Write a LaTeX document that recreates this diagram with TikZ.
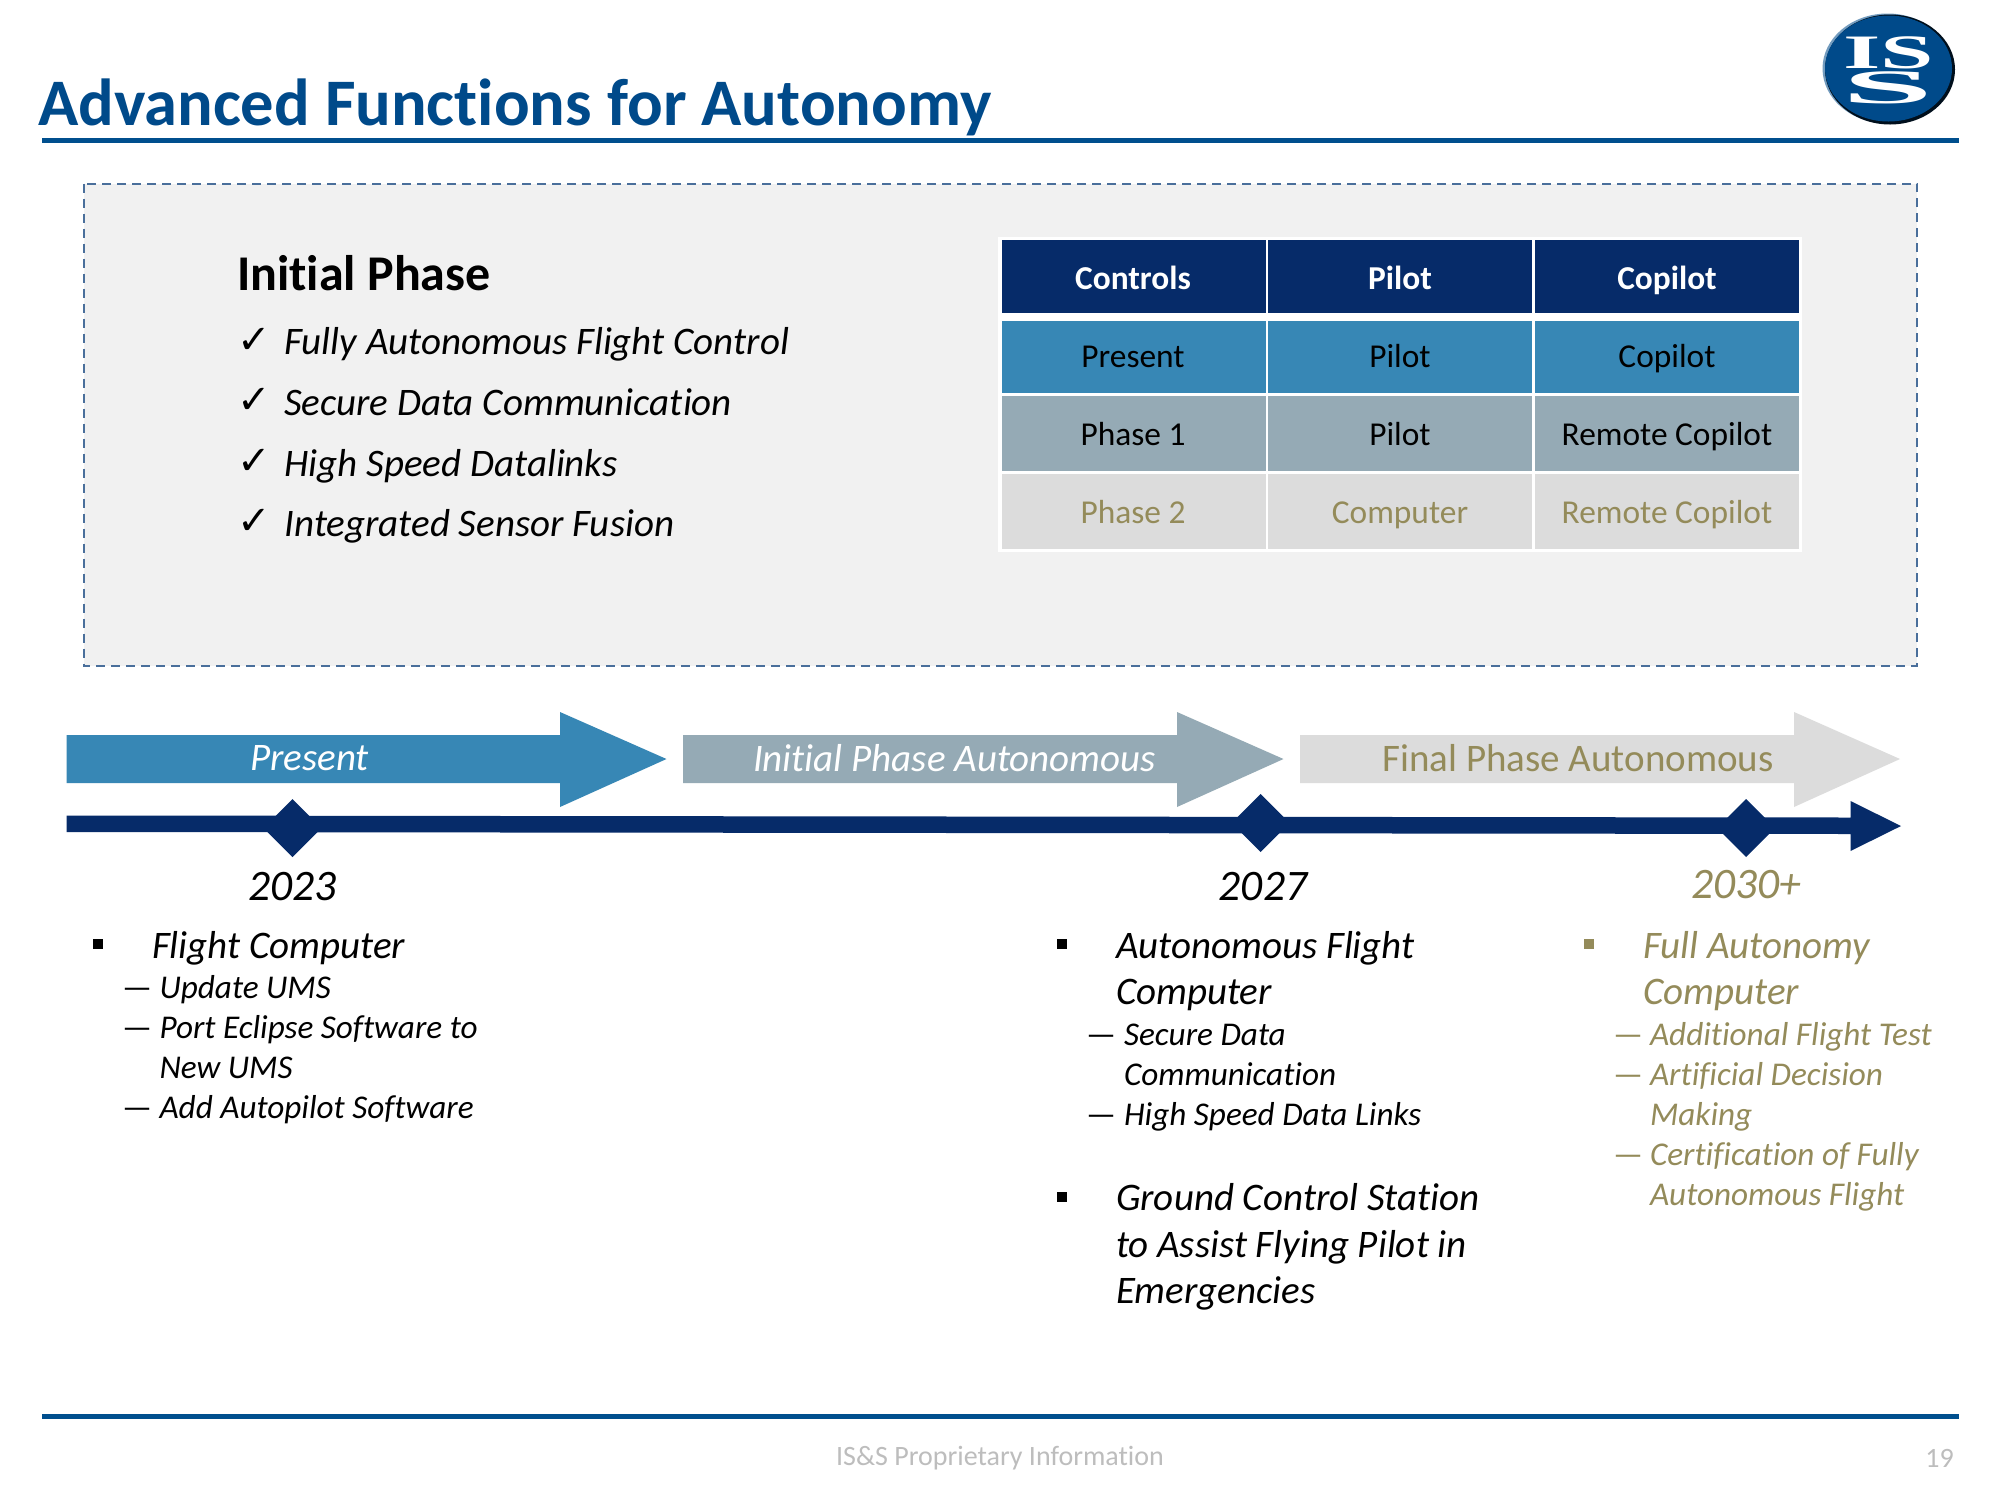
\documentclass[tikz,border=0pt]{standalone}
\usepackage{fontspec}
\setmainfont[Ligatures=NoCommon]{Carlito}
\newfontfamily\djv{DejaVu Sans}
\newfontfamily\logofont{Liberation Serif}
\usetikzlibrary{shapes.geometric,calc}
\definecolor{ttl}{HTML}{004A8A}
\definecolor{bar}{HTML}{004F8E}
\definecolor{navy}{HTML}{062B69}
\definecolor{teal}{HTML}{3787B5}
\definecolor{slate}{HTML}{95AAB5}
\definecolor{pale}{HTML}{DCDCDC}
\definecolor{olive}{HTML}{948B5A}
\definecolor{panel}{HTML}{F1F1F1}
\definecolor{dashc}{HTML}{4A6F9B}
\definecolor{foot}{HTML}{BDBDBD}
\newcommand{\fsz}[1]{\fontsize{#1}{#1}\selectfont}
\tikzset{
  lbl/.style={inner sep=0pt,outer sep=0pt,anchor=base west},
  ctr/.style={inner sep=0pt,outer sep=0pt,anchor=center},
  chk/.style={lbl,font=\djv\fsz{40}},
  main/.style={lbl,font=\itshape\fsz{39}},
  subt/.style={lbl,font=\itshape\fsz{33.2}},
  dashm/.style={lbl,font=\fsz{33.2}},
  bul/.style={rectangle,inner sep=0pt,minimum size=9.5pt,fill=black},
  yr/.style={ctr,font=\itshape\fsz{43.5}},
  arlbl/.style={ctr,font=\fsz{39}},
  cell/.style={ctr,font=\fsz{33.4}},
  hcell/.style={ctr,font=\bfseries\fsz{33.4},text=white},
  dmd/.style={fill=navy},
}
\begin{document}
\begin{tikzpicture}[x=1pt,y=-1pt]
\useasboundingbox[fill=white] (0,0) rectangle (2000,1500);
% title and rules
\node[lbl,font=\bfseries\fsz{66.5},text=ttl] (title) at (38,125) {Advanced Functions for Autonomy};
\fill[bar] (42,137.5) rectangle (1959,143);
\fill[bar] (42,1413.5) rectangle (1959,1419);
% logo
\fill[ttl!55!white] (1887.5,68.5) ellipse [x radius=65,y radius=55];
\fill[black!80!ttl] (1890,69.5) ellipse [x radius=65,y radius=55];
\fill[ttl] (1888.5,68.5) ellipse [x radius=63.5,y radius=53];
\node[lbl,text=white,font=\logofont\bfseries,xscale=2,yscale=1] (logois) at (1843,68) {\fsz{48}IS};
\node[lbl,text=white,font=\logofont\bfseries,xscale=3.4,yscale=1] (logos) at (1842,103) {\fsz{48}S};
% panel
\draw[dashc,fill=panel,line width=2pt,dash pattern=on 9pt off 6pt] (83.5,183.5) rectangle (1917,666);
\node[lbl,font=\bfseries\fsz{50}] (ph) at (237,290) {Initial Phase};
\node[chk] (c1) at (237,353) {✓};
\node[main] (p1) at (284.5,354) {Fully Autonomous Flight Control};
\node[chk] (c2) at (237,413) {✓};
\node[main] (p2) at (284,415) {Secure Data Communication};
\node[chk] (c3) at (237,474) {✓};
\node[main] (p3) at (284.5,476) {High Speed Datalinks};
\node[chk] (c4) at (237,534) {✓};
\node[main] (p4) at (284.5,536) {Integrated Sensor Fusion};
% table
\fill[white] (998,237) rectangle (1802,552);
\fill[navy] (1001.5,240) rectangle (1265.5,312.5);
\fill[navy] (1268,240) rectangle (1532,312.5);
\fill[navy] (1535,240) rectangle (1799,312.5);
\fill[teal] (1001.5,321) rectangle (1265.5,393);
\fill[teal] (1268,321) rectangle (1532,393);
\fill[teal] (1535,321) rectangle (1799,393);
\fill[slate] (1001.5,396) rectangle (1265.5,471);
\fill[slate] (1268,396) rectangle (1532,471);
\fill[slate] (1535,396) rectangle (1799,471);
\fill[pale] (1001.5,474) rectangle (1265.5,549);
\fill[pale] (1268,474) rectangle (1532,549);
\fill[pale] (1535,474) rectangle (1799,549);
\tikzset{every node/.append style={text height=21pt,text depth=7pt}}
\node[hcell] (h1) at (1133,282.7) {Controls};
\node[hcell] (h2) at (1400,282.7) {Pilot};
\node[hcell] (h3) at (1667,282.7) {Copilot};
\node[cell] (a1) at (1133,360.7) {Present};
\node[cell] (a2) at (1400,360.7) {Pilot};
\node[cell] (a3) at (1667,360.7) {Copilot};
\node[cell] (b1) at (1133,438.7) {Phase 1};
\node[cell] (b2) at (1400,438.7) {Pilot};
\node[cell] (b3) at (1667,438.7) {Remote Copilot};
\node[cell,text=olive] (d1) at (1133,516.7) {Phase 2};
\node[cell,text=olive] (d2) at (1400,516.7) {Computer};
\node[cell,text=olive] (d3) at (1667,516.7) {Remote Copilot};
\tikzset{every node/.style={}}
% phase arrows
\fill[teal] (66.5,735) -- (560,735) -- (560,712) -- (666.5,759) -- (560,807) -- (560,783) -- (66.5,783) -- cycle;
\fill[slate] (683,735) -- (1177,735) -- (1177,712) -- (1283.5,759) -- (1177,807) -- (1177,783) -- (683,783) -- cycle;
\fill[pale] (1300,735) -- (1794,735) -- (1794,712) -- (1900,759) -- (1794,807) -- (1794,783) -- (1300,783) -- cycle;
\node[arlbl,text=white,font=\itshape\fsz{39}] (ar1) at (309.5,758) {Present};
\node[arlbl,text=white,font=\itshape\fsz{39}] (ar2) at (954.5,758) {Initial Phase Autonomous};
\node[arlbl,text=olive] (ar3) at (1578,758) {Final Phase Autonomous};
% timeline
\fill[navy] (66.5,815.5) -- (1850.5,817.5) -- (1850.5,801) -- (1901,826) -- (1850.5,851) -- (1850.5,834) -- (66.5,832) -- cycle;
\fill[dmd] (292.5,799) -- (321.5,828) -- (292.5,857) -- (263.5,828) -- cycle;
\fill[dmd] (1260.5,794) -- (1289.5,823) -- (1260.5,852) -- (1231.5,823) -- cycle;
\fill[dmd] (1746,799) -- (1775,828) -- (1746,857) -- (1717,828) -- cycle;
\node[yr] (y1) at (292.5,887) {2023};
\node[yr] (y2) at (1263,887) {2027};
\node[yr,text=olive] (y3) at (1746,885) {2030+};
% left column
\node[bul] (bl1) at (98,944) {};
\node[main] (l1) at (152,958) {Flight Computer};
\node[dashm] (ld1) at (122,998) {—};
\node[subt] (l2) at (159.5,998) {Update UMS};
\node[dashm] (ld2) at (122,1038) {—};
\node[subt] (l3) at (159.5,1038) {Port Eclipse Software to};
\node[subt] (l4) at (159.5,1078) {New UMS};
\node[dashm] (ld3) at (122,1118) {—};
\node[subt] (l5) at (159.5,1118) {Add Autopilot Software};
% middle column
\node[bul] (bm1) at (1062,944) {};
\node[main] (m1) at (1116,958) {Autonomous Flight};
\node[main] (m2) at (1116,1004) {Computer};
\node[dashm] (md1) at (1086,1045) {—};
\node[subt] (m3) at (1124,1045) {Secure Data};
\node[subt] (m4) at (1124,1085) {Communication};
\node[dashm] (md2) at (1086,1125) {—};
\node[subt] (m5) at (1124,1125) {High Speed Data Links};
\node[bul] (bm2) at (1062,1197) {};
\node[main] (m6) at (1116,1210) {Ground Control Station};
\node[main] (m7) at (1116,1257) {to Assist Flying Pilot in};
\node[main] (m8) at (1116,1303) {Emergencies};
% right column
\node[bul,fill=olive] (br1) at (1589,944) {};
\node[main,text=olive] (r1) at (1643,958) {Full Autonomy};
\node[main,text=olive] (r2) at (1643,1004) {Computer};
\node[dashm,text=olive] (rd1) at (1613,1045) {—};
\node[subt,text=olive] (r3) at (1650,1045) {Additional Flight Test};
\node[dashm,text=olive] (rd2) at (1613,1085) {—};
\node[subt,text=olive] (r4) at (1650,1085) {Artificial Decision};
\node[subt,text=olive] (r5) at (1650,1125) {Making};
\node[dashm,text=olive] (rd3) at (1613,1165) {—};
\node[subt,text=olive] (r6) at (1650,1165) {Certification of Fully};
\node[subt,text=olive] (r7) at (1650,1205) {Autonomous Flight};
% footer
\node[ctr,font=\fsz{28},text=foot] (f1) at (1000,1458) {IS\&S Proprietary Information};
\node[inner sep=0pt,anchor=east,font=\fsz{28},text=foot] (f2) at (1954,1458) {19};
\end{tikzpicture}
\end{document}
